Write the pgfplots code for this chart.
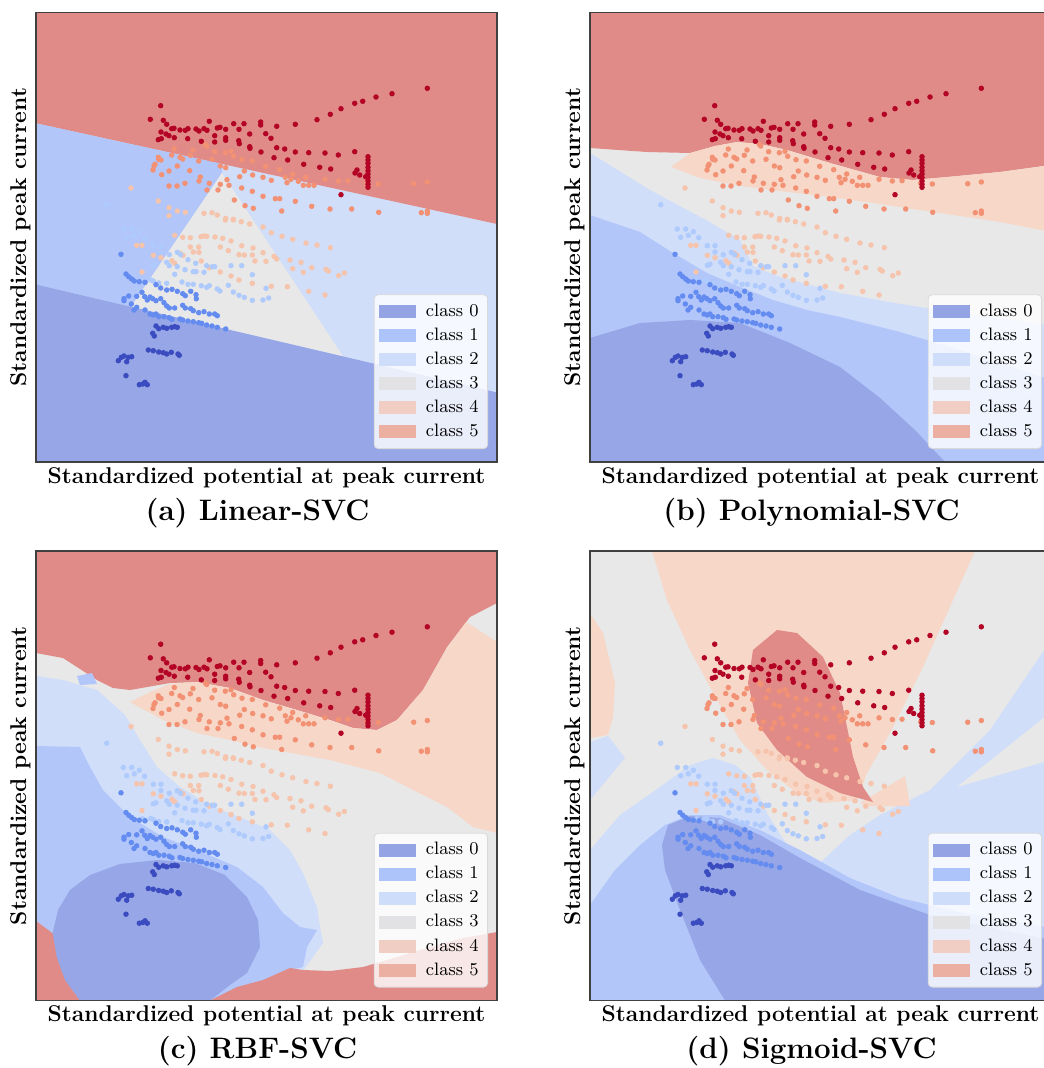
\documentclass[border=0pt]{standalone}
\usepackage{pgfplots}
\usepackage{pgfplotstable}
\pgfplotsset{compat=1.18}

% region colours
\definecolor{r0}{RGB}{150,166,230}
\definecolor{r1}{RGB}{178,198,250}
\definecolor{r2}{RGB}{208,222,250}
\definecolor{r3}{RGB}{232,232,232}
\definecolor{r4}{RGB}{247,215,200}
\definecolor{r5}{RGB}{224,139,135}
% legend swatches
\definecolor{l0}{RGB}{148,163,228}
\definecolor{l1}{RGB}{172,196,250}
\definecolor{l2}{RGB}{206,221,249}
\definecolor{l3}{RGB}{226,226,229}
\definecolor{l4}{RGB}{241,206,196}
\definecolor{l5}{RGB}{236,176,162}
% points
\definecolor{p0}{RGB}{59,76,192}
\definecolor{p1}{RGB}{100,140,240}
\definecolor{p2}{RGB}{175,202,252}
\definecolor{p3}{RGB}{246,196,172}
\definecolor{p4}{RGB}{242,145,115}
\definecolor{p5}{RGB}{180,4,38}

% samples, in pixel coordinates of panel (a)
\pgfplotstableread{
x y
427.3 88.3
392 93.7
376 97
362.7 101.3
354.7 103.3
341 108.7
330.3 114.3
317 119.7
295.3 124.3
276.7 126.3
260.7 122
260.7 125
244 123.7
233.7 123.7
209.3 121.3
160.7 105.7
150.3 119.3
163.3 120.3
166.7 124.3
171.7 128.7
174 128.3
180 130
185.3 130.3
188 128.7
196 129
199 131
204 128.7
207 130.3
217.3 128
220 127.3
225.7 129.3
239 129.3
249.7 134
265.7 133.7
271 138.3
161 132
166 134
169 135.7
174.3 137.7
158.3 139.7
161.3 138.7
187.7 138.7
201.3 141.3
214.7 135.7
214.7 142
225.7 137.7
225.7 140.3
238.7 140.7
239.3 143.7
249.7 146.7
250 148.3
261 152
276.7 147.7
284.7 149
295.3 152
308.7 152.7
325 153
338.3 155
354.7 151.7
274 157.7
287.7 160
303.7 164.3
319.7 167.3
330.7 169
357 170
355 173
359.7 175
365.7 176.7
368 156.7
368 160
368 163.3
368 167.3
368 170.7
368 174
368 177.5
368 181
368 184.3
368 187.3
341 194.7
}\dfive

\pgfplotstableread{
x y
174.3 149
193 150
205.3 144.3
206.7 146
214.7 151.7
225.3 152.7
231 151.3
233.7 156.3
171.7 155
180 157.3
182.7 159
190.3 155.3
198.7 161
212 159.3
242 159.7
252.3 161
265.7 166.3
158.3 157.3
161 160
158.7 159.3
155 164.3
154 166
153 170
169 171
177.3 166
189.7 170.7
220.3 166
225.7 167.7
244.3 171
279.7 169.7
292.7 174
285.3 177.3
291 179.3
271.3 180.3
263 177.3
252.7 175
239.7 176.7
227 179.7
209.3 183.3
199 181
200.3 177
185 183.3
177 186
169 186
161.7 174.7
298.3 181.3
305.7 177.3
325 179.3
338.3 181
348 180.7
287 182.7
303.3 185.3
308.7 185.3
314 185.3
229 185.3
220.3 184.3
241.7 188
252.3 191.3
263 196.3
275.3 198.7
279.7 198.7
295.3 201.3
234.3 200
245 205.7
253.3 208.3
281.7 211
311.7 206.3
330 209
351.7 209
378.7 212.3
366.7 183.3
378.3 184
413.7 183.7
427.3 182
421.3 212.7
427.3 211
427.3 213.3
218 190
207 190
}\dfour

\pgfplotstableread{
x y
131 188
158.3 201
169 207.7
169 215.7
177.3 211
185.3 212.3
204 213.3
212 212.7
217.3 215
225.7 218.3
233.3 219.3
174.7 235.3
182.7 237.3
190.3 237.7
201 236.7
204.3 236
206.7 236.3
215 237
222.7 238.3
231 241
225.3 220
233.3 220
241.3 221.7
249.7 224
263 227
271.3 232.7
282 236.3
292.7 239.3
306 243
317 245
330.3 247.7
136.7 245.3
142 245.3
153.3 255.3
161 257.7
190.3 247
198.7 247
193.3 252
199 252.3
180.3 253.3
183 255.3
220.3 247
228.3 250.7
241.7 245.7
253 248
263 252.7
239 254.7
244.3 255
252.3 255
274 256.3
276.7 259
290 260
301 262.3
326 269.3
328.3 271
172 260.7
174.7 263.3
201.3 261
209.3 267.7
220.3 272
255 261
266 261.3
292.7 268.7
303.3 272.3
311.7 267.7
338.7 275.7
344.3 273
231 276
239 280
142 272
252.3 283.3
271.3 286.3
287.3 286.7
308.7 291.3
325 295
}\dthree

\pgfplotstableread{
x y
106.7 204.7
123.3 229
131.7 229
126.7 237.3
134.3 235.3
139.3 231.7
144.7 237.7
153.3 245.7
161 245.7
161 252
169.3 254.7
177.3 252.3
180.7 254.7
153.3 265.3
156 264.3
166.7 262.3
169.3 265.7
177.3 266.7
188 259.7
195.7 263.3
185 269.7
193.3 271.7
196 271.7
204 272.3
206.7 265.7
212.3 266.7
214.7 266.7
182 282
188 284.3
193.3 284.3
201.3 285.7
206.7 287.3
209.3 285.7
228.3 285.3
217.3 289
220 291
231 265.7
241.7 265.7
252.3 274.7
233.3 292
239 295.3
244.3 297.3
252.3 300.3
263 300
266 288.3
268.7 298
174.7 274.3
166.7 283.3
158.7 283
153.3 281
145.3 282
142.7 280.3
150.7 280
}\dtwo

\pgfplotstableread{
x y
121 254.3
126 274
128.7 276.7
131.7 279
134.3 281
139.3 281.7
145 282.3
156 284.7
160.7 288
166.7 290
172 289.3
177.3 291.3
182.7 293.7
185.3 295.7
190.7 291.3
196 294.7
196.3 298.7
128.7 296
124 298.7
124 300.7
136.7 296.3
142 292.3
144.7 296.7
147.3 300
150 297
152.7 298.7
156 300.7
160.7 298.7
164 302.7
166.7 306
169.3 308
174.7 308
131.3 304
136.7 307.3
134 310
182.7 305.3
185.3 308
190.7 308.7
193.3 310.7
198.7 312.7
204 311.7
209.3 314
214.7 314
217.3 315.7
145 310
150 314
153.3 315
156 314
158.7 316.7
164 316.7
169.3 317.7
172 319.3
180 319
182.7 320
188 321
193.3 321.7
198.7 322.7
201.7 323.3
206.7 325
212 326
217.3 327.3
225.7 329
}\done

\pgfplotstableread{
x y
156 326
158.7 328.7
163.3 327.3
166.7 328.3
171.7 327.3
174.7 326.7
177.3 327.3
152.7 333.3
154.3 336
148.3 350
153.3 350.7
158.7 352
163.3 352.7
166.7 354
171.3 352.3
178 354
179.3 355.3
118.3 360.7
121.3 357.3
124 356
128.3 357.3
131.7 356.7
126.7 361.7
126 375.7
139.3 384.7
142.7 384
145 382.3
147.3 384.7
}\dzero

\pgfplotsset{
  svc/.style={
    width=230.5pt, height=224.75pt, scale only axis,
    anchor=north west, y dir=reverse, enlargelimits=false,
    xtick=\empty, ytick=\empty, axis on top,
    axis line style={draw=black!75, line width=0.7pt},
    xlabel={\bfseries Standardized potential at peak current},
    ylabel={\bfseries Standardized peak current},
    label style={font=\fontsize{11.4}{13.5}\selectfont},
    xlabel style={at={(axis description cs:0.5,0)}, anchor=north, inner sep=0pt, yshift=-2.5pt},
    ylabel style={at={(axis description cs:-0.011,0.5)}, anchor=south, rotate=0, inner sep=0pt},
    legend style={at={(0.9805,0.0289)}, anchor=south east, font=\small,
      draw=black!15, fill=white, fill opacity=0.8, draw opacity=1, text opacity=1,
      rounded corners=2pt, row sep=0.3pt, column sep=3pt, inner sep=2.5pt},
    legend cell align=left,
  },
  reg/.style={draw=none, forget plot},
}

\newcommand{\scatterall}[2]{%
  \addplot[only marks, mark=*, mark size=1.15pt, color=p3, forget plot] table[x expr=\thisrow{x}+#1, y expr=\thisrow{y}+#2] {\dthree};
  \addplot[only marks, mark=*, mark size=1.15pt, color=p2, forget plot] table[x expr=\thisrow{x}+#1, y expr=\thisrow{y}+#2] {\dtwo};
  \addplot[only marks, mark=*, mark size=1.15pt, color=p4, forget plot] table[x expr=\thisrow{x}+#1, y expr=\thisrow{y}+#2] {\dfour};
  \addplot[only marks, mark=*, mark size=1.15pt, color=p1, forget plot] table[x expr=\thisrow{x}+#1, y expr=\thisrow{y}+#2] {\done};
  \addplot[only marks, mark=*, mark size=1.15pt, color=p0, forget plot] table[x expr=\thisrow{x}+#1, y expr=\thisrow{y}+#2] {\dzero};
  \addplot[only marks, mark=*, mark size=1.15pt, color=p5, forget plot] table[x expr=\thisrow{x}+#1, y expr=\thisrow{y}+#2] {\dfive};
}
\newcommand{\svclegend}{%
  \addlegendimage{legend image code/.code={\fill[l0, fill opacity=1, sharp corners] (0pt,-3pt) rectangle (18pt,3pt);}}\addlegendentry{class 0}
  \addlegendimage{legend image code/.code={\fill[l1, fill opacity=1, sharp corners] (0pt,-3pt) rectangle (18pt,3pt);}}\addlegendentry{class 1}
  \addlegendimage{legend image code/.code={\fill[l2, fill opacity=1, sharp corners] (0pt,-3pt) rectangle (18pt,3pt);}}\addlegendentry{class 2}
  \addlegendimage{legend image code/.code={\fill[l3, fill opacity=1, sharp corners] (0pt,-3pt) rectangle (18pt,3pt);}}\addlegendentry{class 3}
  \addlegendimage{legend image code/.code={\fill[l4, fill opacity=1, sharp corners] (0pt,-3pt) rectangle (18pt,3pt);}}\addlegendentry{class 4}
  \addlegendimage{legend image code/.code={\fill[l5, fill opacity=1, sharp corners] (0pt,-3pt) rectangle (18pt,3pt);}}\addlegendentry{class 5}
}

\begin{document}
\begin{tikzpicture}

% (a) Linear-SVC
\begin{axis}[svc, at={(18pt,-6.25pt)}, xmin=36, xmax=497, ymin=12.5, ymax=462]
\addplot[reg, fill=r2] coordinates {(36,12.5) (497,12.5) (497,462) (36,462)} --cycle;
\addplot[reg, fill=r5] coordinates {(36,12.5) (497,12.5) (497,224) (36,123.3)} --cycle;
\addplot[reg, fill=r1] coordinates {(36,123.3) (222,164) (222,173) (131.1,306.7) (36,284.5)} --cycle;
\addplot[reg, fill=r3] coordinates {(222,173) (343,356.3) (131.1,306.7)} --cycle;
\addplot[reg, fill=r0] coordinates {(36,284.5) (497,392.5) (497,462) (36,462)} --cycle;
\scatterall{0}{0}
\svclegend
\end{axis}

% (b) Polynomial-SVC
\begin{axis}[svc, at={(295pt,-6.25pt)}, xmin=590, xmax=1051, ymin=12.5, ymax=462]
\addplot[reg, fill=r3] coordinates {(590,12.5) (1051,12.5) (1051,462) (590,462)} --cycle;
\addplot[reg, fill=r5] coordinates {(590,12.5) (1051,12.5) (1051,165) (1000,172) (947,177) (913,180) (880,177) (830,163) (787,150) (760,144) (737,142) (715,146) (690,153) (647,152) (590,148)} --cycle;
\addplot[reg, fill=r4] coordinates {(671,167) (690,153) (715,146) (737,142) (760,144) (787,150) (830,163) (880,177) (913,180) (947,177) (1000,172) (1051,165) (1051,232) (1000,222) (940,213) (880,204) (830,197) (780,191) (740,186) (700,178)} --cycle;
\addplot[reg, fill=r2] coordinates {(590,153) (650,190) (706,220) (740,240) (753,266) (780,277) (840,293) (900,304) (960,313) (1051,325) (1051,462) (590,462)} --cycle;
\addplot[reg, fill=r1] coordinates {(590,215) (640,232) (673,253) (707,273) (740,287) (773,300) (807,310) (840,317) (900,332) (960,350) (1051,380) (1051,462) (590,462)} --cycle;
\addplot[reg, fill=r0] coordinates {(590,338) (640,323) (690,320) (740,323) (790,343) (840,367) (880,398) (915,430) (945,462) (590,462)} --cycle;
\scatterall{554}{0}
\svclegend
\end{axis}

% (c) RBF-SVC
\begin{axis}[svc, at={(18pt,-275.5pt)}, xmin=36, xmax=497, ymin=551, ymax=1000.5]
\addplot[reg, fill=r3] coordinates {(36,551) (497,551) (497,1000.5) (36,1000.5)} --cycle;
\addplot[reg, fill=r5] coordinates {(36,551) (497,551) (497,603) (470,617) (447,647) (423,690) (397,720) (377,730) (353,728) (330,720) (297,710) (263,700) (230,688) (197,682) (170,683) (130,690) (113,688) (97,680) (63,658) (36,653)} --cycle;
\addplot[reg, fill=r4] coordinates {(130,702) (150,692) (170,684) (197,682) (230,688) (263,700) (297,710) (330,720) (353,728) (377,730) (397,720) (423,690) (447,648) (466,622) (497,642) (497,833) (473,827) (447,807) (413,790) (380,773) (330,760) (263,748) (230,740) (197,733) (163,720)} --cycle;
\addplot[reg, fill=r2] coordinates {(36,676) (63,680) (97,690) (125,715) (140,740) (157,767) (180,787) (213,807) (247,820) (270,830) (290,850) (303,873) (317,907) (320,927) (323,943) (300,975) (36,975)} --cycle;
\addplot[reg, fill=r1] coordinates {(36,746) (80,747) (90,767) (103,790) (130,817) (163,837) (197,850) (237,867) (263,887) (283,913) (300,927) (317,930) (307,947) (303,967) (290,970) (263,982) (237,990) (210,1000.5) (36,1000.5)} --cycle;
\addplot[reg, fill=r1] coordinates {(77,676) (92,673) (97,684) (80,685)} --cycle;
\addplot[reg, fill=r5] coordinates {(36,921) (55,935) (150,960) (210,1000.5) (237,987) (263,980) (290,968) (303,970) (330,971) (363,967) (397,957) (430,947) (463,938) (497,932) (497,1000.5) (36,1000.5)} --cycle;
\addplot[reg, fill=r0] coordinates {(52.7,933) (56.7,957) (65,980) (80,1000.5) (210,1000.5) (230,985) (247,973) (260,947) (258,920) (247,897) (225,875) (195,863) (157,860) (120,864) (90,875) (70,890) (58,910)} --cycle;
\scatterall{0}{538.5}
\svclegend
\end{axis}

% (d) Sigmoid-SVC
\begin{axis}[svc, at={(295pt,-275.5pt)}, xmin=590, xmax=1051, ymin=551, ymax=1000.5]
\addplot[reg, fill=r3] coordinates {(590,551) (1051,551) (1051,1000.5) (590,1000.5)} --cycle;
\addplot[reg, fill=r2] coordinates {(590,850) (620,815) (660,787) (690,765) (713,758) (735,765) (750,777) (767,813) (790,850) (810,872) (850,835) (880,815) (930,790) (990,730) (1051,640) (1051,1000.5) (590,1000.5)} --cycle;
\addplot[reg, fill=r3] coordinates {(957,787) (1051,712) (1051,760)} --cycle;
\addplot[reg, fill=r2] coordinates {(590,742) (608,736) (625,758) (590,800)} --cycle;
\addplot[reg, fill=r4] coordinates {(652,551) (975,551) (953,600) (923,667) (890,733) (867,773) (857,800) (823,803) (797,793) (767,770) (740,740) (717,700) (690,650) (667,600)} --cycle;
\addplot[reg, fill=r4] coordinates {(860,803) (905,776) (910,806) (870,806)} --cycle;
\addplot[reg, fill=r4] coordinates {(590,613) (603,633) (615,683) (613,717) (608,735) (590,738)} --cycle;
\addplot[reg, fill=r5] coordinates {(777,630) (797,633) (823,657) (840,693) (847,727) (853,757) (863,787) (873,802) (840,793) (807,777) (777,750) (757,723) (748,683) (753,650)} --cycle;
\addplot[reg, fill=r1] coordinates {(590,1000.5) (590,905) (615,870) (640,845) (665,825) (690,815) (720,815) (760,830) (800,850) (850,878) (900,898) (960,912) (1051,928) (1051,1000.5)} --cycle;
\addplot[reg, fill=r0] coordinates {(662,845) (668,825) (690,816) (720,818) (760,835) (800,858) (860,890) (930,915) (1051,940) (1051,1000.5) (725,1000.5) (700,960) (680,910) (665,870)} --cycle;
\scatterall{554}{538.5}
\svclegend
\end{axis}

\node[font=\fontsize{14.8}{18}\selectfont\bfseries, anchor=base] at (128.75pt,-260pt) {(a) Linear-SVC};
\node[font=\fontsize{14.8}{18}\selectfont\bfseries, anchor=base] at (405.75pt,-260pt) {(b) Polynomial-SVC};
\node[font=\fontsize{14.8}{18}\selectfont\bfseries, anchor=base] at (128.75pt,-529.25pt) {(c) RBF-SVC};
\node[font=\fontsize{14.8}{18}\selectfont\bfseries, anchor=base] at (405.75pt,-529.25pt) {(d) Sigmoid-SVC};

\pgfresetboundingbox
\path[use as bounding box] (0pt,0pt) rectangle (521.5pt,-534pt);
\end{tikzpicture}
\end{document}
